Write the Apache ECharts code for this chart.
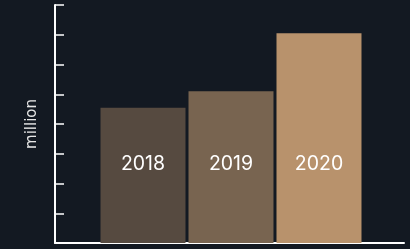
<!DOCTYPE html>
<html>
<head>
<meta charset="utf-8">
<style>
  html, body { margin: 0; padding: 0; background: #131922; }
  #chart { width: 410px; height: 249px; }
</style>
<script src="https://cdn.jsdelivr.net/npm/echarts@6/dist/echarts.min.js"></script>
</head>
<body>
<div id="chart"></div>
<script>
// data
var years = ['2018', '2019', '2020'];
var positions = [1, 2, 3];
var values = [4.55, 5.1, 7.05];

var barColors = ['#564a40', '#786450', '#b8926c'];

var chart = echarts.init(document.getElementById('chart'));

var seriesData = years.map(function (y, i) {
    return {
        name: y,
        value: [positions[i], values[i]],
        itemStyle: { color: barColors[i] }
    };
});

var option = {
    backgroundColor: '#131922',
    animation: false,
    grid: {
        left: 55,
        right: 6,
        top: 5,
        bottom: 6
    },
    xAxis: {
        type: 'value',
        min: 0,
        max: 3.966,
        splitLine: { show: false },
        axisTick: { show: false },
        axisLabel: { show: false },
        axisLine: {
            show: true,
            onZero: false,
            lineStyle: { color: '#ffffff', width: 2 }
        }
    },
    yAxis: {
        type: 'value',
        min: 0,
        max: 8,
        interval: 1,
        name: 'million',
        nameLocation: 'middle',
        nameGap: 15,
        nameRotate: 90,
        nameTextStyle: {
            color: '#e6e6e6',
            fontSize: 15,
            fontFamily: 'DejaVu Sans'
        },
        splitLine: { show: false },
        axisLabel: { show: false },
        axisTick: {
            show: true,
            inside: true,
            length: 9,
            lineStyle: { color: '#ffffff', width: 1.5 }
        },
        axisLine: {
            show: true,
            lineStyle: { color: '#ffffff', width: 2 }
        }
    },
    series: [{
        type: 'bar',
        barWidth: 85,
        data: seriesData,
        label: {
            show: true,
            position: 'insideBottom',
            distance: 69,
            formatter: '{b}',
            color: '#ffffff',
            fontSize: 19.5,
            fontFamily: 'Inter'
        }
    }]
};

chart.setOption(option);
</script>
</body>
</html>
